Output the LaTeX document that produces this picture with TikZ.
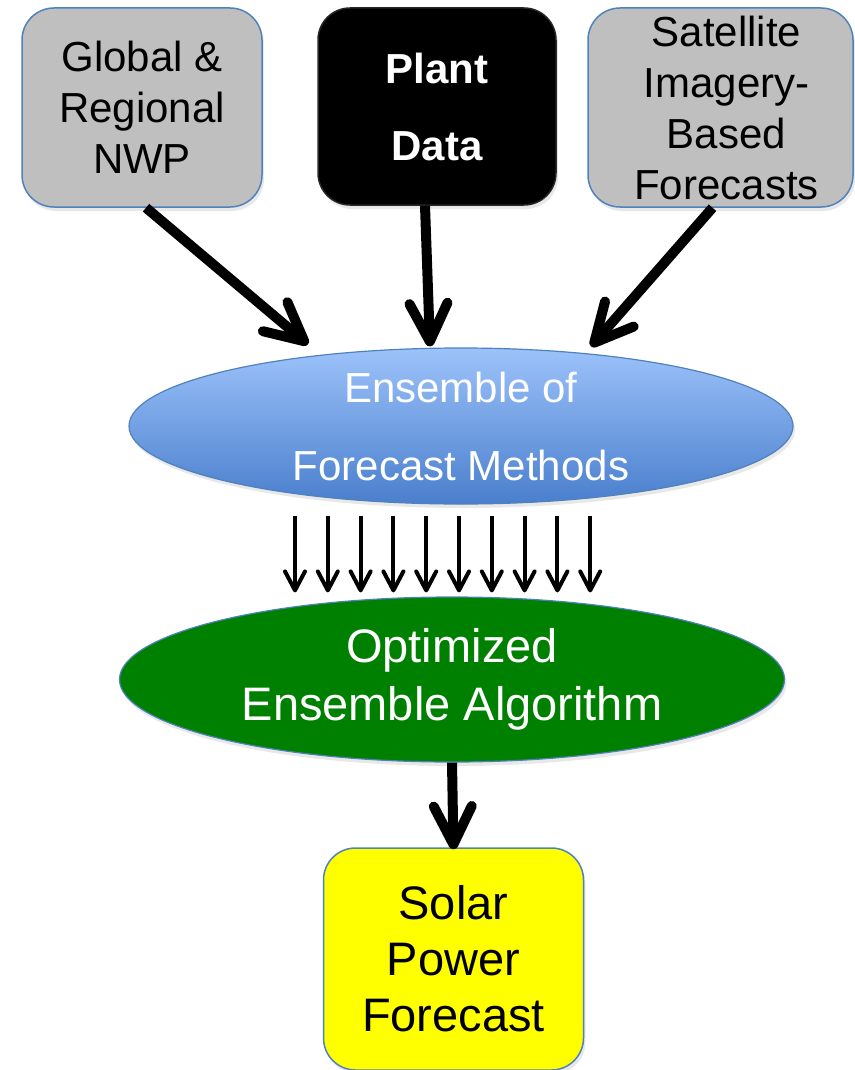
\documentclass[tikz,border=0pt]{standalone}
\usepackage{fontspec}
\setmainfont{Liberation Sans}
\usetikzlibrary{shapes,arrows.meta,positioning,shadows}

\definecolor{boxgray}{HTML}{BFBFBF}
\definecolor{edgeblue}{HTML}{4F81BD}
\definecolor{enstop}{HTML}{9CC2FA}
\definecolor{ensbottom}{HTML}{4A7FCD}
\definecolor{optgreen}{HTML}{008000}
\definecolor{solaryellow}{HTML}{FFFF00}

\begin{document}
\begin{tikzpicture}[x=1pt, y=1pt]
    \tikzstyle{shade} = [drop shadow={shadow xshift=2pt, shadow yshift=-4pt, opacity=0.18}]
    \tikzstyle{source} = [rectangle, draw=edgeblue, line width=1.5pt, fill=boxgray, rounded corners=32pt, align=center, shade, font=\fontsize{42}{51}\selectfont]
    \tikzstyle{hub} = [ellipse, draw=edgeblue, line width=1.2pt, align=center, inner sep=0pt, shade, text=white]
    \tikzstyle{feed} = [draw, line width=10pt, -{Straight Barb[length=38pt, width=38pt, round]}]
    \tikzstyle{fan} = [draw, line width=4pt, -{Straight Barb[length=19pt, width=20pt, round]}]

    \useasboundingbox (0,0) rectangle (854,-1070);

    \node[source, minimum width=240pt, minimum height=199pt] (nwp) at (142,-107.5) {Global \&\\Regional\\NWP};
    \node[source, minimum width=238pt, minimum height=197pt, fill=black, draw=black!85, text=white, font=\fontsize{42}{77}\selectfont\bfseries] (plant) at (437,-106.5) {Plant\\Data};
    \node[source, minimum width=265pt, minimum height=199pt] (sat) at (720.5,-107.5) {\hspace*{12pt}Satellite\\\hspace*{12pt}Imagery-\\\hspace*{12pt}Based\\\hspace*{12pt}Forecasts};

    \node[hub, minimum width=664pt, minimum height=156pt, top color=enstop, bottom color=ensbottom, font=\fontsize{42}{78}\selectfont] (ens) at (461,-426) {Ensemble of\\Forecast Methods};
    \node[hub, minimum width=665pt, minimum height=165pt, fill=optgreen, font=\fontsize{47}{58}\selectfont] (opt) at (452,-679.5) {Optimized\\Ensemble Algorithm};

    \node[source, minimum width=260pt, minimum height=222pt, fill=solaryellow, font=\fontsize{47}{56}\selectfont] (solar) at (453.5,-959) {Solar\\Power\\Forecast};

    \path[feed] ([xshift=4pt]nwp.south) -- ([xshift=-153pt,yshift=3pt]ens.north);
    \path[feed] ([xshift=-12pt]plant.south) -- ([xshift=-31pt,yshift=1pt]ens.north);
    \path[feed] ([xshift=-8pt]sat.south) -- ([xshift=130pt,yshift=1pt]ens.north);

    \foreach \i in {0,...,9}
        \path[fan] ([xshift=-166pt+32.8pt*\i, yshift=-11pt]ens.south) coordinate (top\i) -- ([yshift=4pt]opt.north -| top\i);

    \path[feed] (opt.south) -- ([yshift=-2pt]solar.north);
\end{tikzpicture}
\end{document}
